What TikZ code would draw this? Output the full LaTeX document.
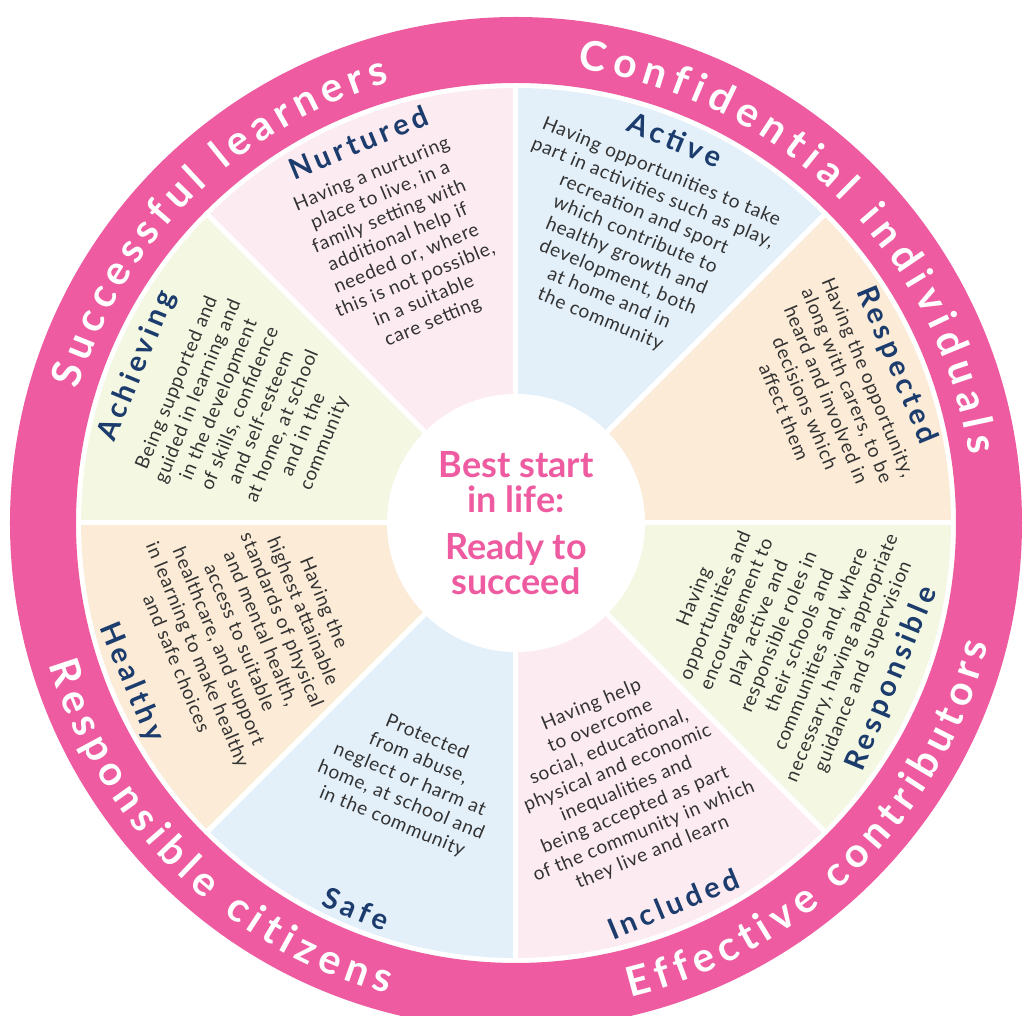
\documentclass[tikz,border=0pt]{standalone}
\usepackage{fontspec}
\setmainfont{Lato}
\newfontfamily\ringfont{Lato}
\newfontfamily\headfont{Lato}[LetterSpace=14]
\newfontfamily\bodyfont{Lato}[LetterSpace=4]
\usetikzlibrary{decorations.text}

\definecolor{ringpink}{HTML}{EE5BA0}
\definecolor{sectorpink}{HTML}{FDEBF2}
\definecolor{sectorblue}{HTML}{E3F0FA}
\definecolor{sectortan}{HTML}{FBEBD7}
\definecolor{sectorgreen}{HTML}{F4F7E1}
\definecolor{navy}{HTML}{1B3C6C}
\definecolor{bodygrey}{HTML}{333333}

\begin{document}
\begin{tikzpicture}[x=1pt, y=1pt,
  heading/.style={text=navy, font=\headfont\bfseries\fontsize{29}{30}\selectfont},
  body/.style={text=bodygrey, align=center, font=\bodyfont\fontsize{19}{22.8}\selectfont},
  ringtext/.style={decorate, decoration={text along path, text align=fit to path,
    text={|\ringfont\bfseries\fontsize{41}{41}\selectfont\color{white}|#1}}}]

% Define centre and canvas
\coordinate (O) at (0,0);
\useasboundingbox (-516,-493) rectangle (510,523);
\clip (-516,-493) rectangle (510,523);

% Outer ring
\fill[ringpink, even odd rule] (O) circle[radius=506] (O) circle[radius=440];

% Coloured sectors
\foreach \a/\c in {0/sectortan, 45/sectorblue, 90/sectorpink, 135/sectorgreen,
                   180/sectortan, 225/sectorblue, 270/sectorpink, 315/sectorgreen}
  \fill[\c] (O) -- (\a:435) arc[start angle=\a, end angle=\a+45, radius=435] -- cycle;

% White dividers between sectors
\foreach \a in {0,45,...,315}
  \draw[white, line width=5] (O) -- (\a:437);

% Hub
\fill[white] (O) circle[radius=129];
\node[text=ringpink, align=center, font=\bfseries\fontsize{36}{35}\selectfont] (hub) at (O)
  {Best start\\in life:\\[12pt]Ready to\\succeed};

% Ring labels, upper half read clockwise
\path[ringtext={Successful learners}] (163:458) arc[start angle=163, end angle=106, radius=458];
\path[ringtext={Confidential individuals}] (82.3:458) arc[start angle=82.3, end angle=8.5, radius=458];
% Ring labels, lower half read anticlockwise
\path[ringtext={Responsible citizens}] (196.9:488) arc[start angle=196.9, end angle=254.7, radius=488];
\path[ringtext={Effective contributors}] (-76.4:488) arc[start angle=-76.4, end angle=-14.4, radius=488];

% Nurtured
\node[heading, rotate=22.5] (nurtured) at (112.5:412) {Nurtured};
\node[body, rotate=22.5] (nurturedtext) at (112.5:297)
  {Having a nurturing\\place to live, in a\\family setting with\\additional help if\\needed or, where\\this is not possible,\\in a suitable\\care setting};

% Active
\node[heading, rotate=-22.5] (active) at (67.5:415) {Active};
\node[body, rotate=-22.5] (activetext) at (67.5:300)
  {Having opportunities to take\\part in activities such as play,\\recreation and sport\\which contribute to\\healthy growth and\\development, both\\at home and in\\the community};

% Respected
\node[heading, rotate=-67.5] (respected) at (22.5:412) {Respected};
\node[body, rotate=-67.5] (respectedtext) at (22.5:336)
  {Having the opportunity,\\along with carers, to be\\heard and involved in\\decisions which\\affect them};

% Responsible
\node[heading, rotate=67.5] (responsible) at (-22.5:407) {Responsible};
\node[body, rotate=67.5] (responsibletext) at (-22.5:285)
  {Having\\opportunities and\\encouragement to\\play active and\\responsible roles in\\their schools and\\communities and, where\\necessary, having appropriate\\guidance and supervision};

% Included
\node[heading, rotate=22.5] (included) at (-67.5:412) {Included};
\node[body, rotate=22.5] (includedtext) at (-67.5:277)
  {Having help\\to overcome\\social, educational,\\physical and economic\\inequalities and\\being accepted as part\\of the community in which\\they live and learn};

% Safe
\node[heading, rotate=-22.5] (safe) at (-112.5:418) {Safe};
\node[body, rotate=-22.5] (safetext) at (-112.5:278)
  {Protected\\from abuse,\\neglect or harm at\\home, at school and\\in the community};

% Healthy
\node[heading, rotate=-67.5] (healthy) at (-157.5:416) {Healthy};
\node[body, rotate=-67.5] (healthytext) at (-157.5:287)
  {Having the\\highest attainable\\standards of physical\\and mental health,\\access to suitable\\healthcare, and support\\in learning to make healthy\\and safe choices};

% Achieving
\node[heading, rotate=67.5] (achieving) at (157.5:410) {Achieving};
\node[body, rotate=67.5] (achievingtext) at (157.5:287)
  {Being supported and\\guided in learning and\\in the development\\of skills, confidence\\and self-esteem\\at home, at school\\and in the\\community};

\end{tikzpicture}
\end{document}
